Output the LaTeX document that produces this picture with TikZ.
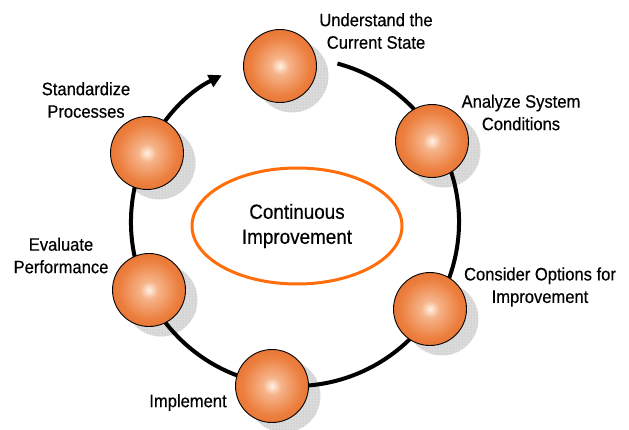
\documentclass[tikz,border=0pt]{standalone}
\usepackage{fontspec}
\setmainfont{Liberation Sans}[FakeStretch=0.92,FakeBold=0.4]
\usetikzlibrary{shapes.geometric,patterns,arrows.meta}
\definecolor{ringorange}{RGB}{255,110,10}
\definecolor{edgeor}{RGB}{210,84,14}
\definecolor{outor}{RGB}{226,100,32}
\definecolor{midor}{RGB}{236,128,64}
\definecolor{lightor}{RGB}{246,180,138}
\definecolor{hiwhite}{RGB}{255,242,230}
\pgfdeclareradialshading{sphereshade}{\pgfpoint{0bp}{0bp}}{%
  color(0bp)=(hiwhite); color(6bp)=(lightor); color(20bp)=(midor);
  color(36bp)=(outor); color(50bp)=(edgeor); color(70bp)=(edgeor)}
\tikzset{
  sphere/.style={circle, minimum size=73pt, inner sep=0pt, draw=black, line width=0.9pt, shading=sphereshade},
  shadowdisc/.style={circle, minimum size=73pt, inner sep=0pt, fill=gray!28},
  lbl/.style={align=center, font=\fontsize{18}{22.5}\selectfont, text=black},
  ring/.style={line width=4pt, black},
}
\begin{document}
\begin{tikzpicture}[x=1pt,y=1pt]
\useasboundingbox (0,0) rectangle (629,429);
% shadows
\foreach \n/\x/\y in {s1/280/363, s2/432/288, s3/147/276, s4/430/120, s5/272/43, s6/149/139}{
  \node[shadowdisc] (\n sh) at (\x+12,\y-10) {};
  \fill[pattern=dots, pattern color=gray!62] (\x+12,\y-10) circle (36.5pt);
}
% ring with arrow
\coordinate (ringstart) at ({295+164*cos(75)},{207+164*sin(75)});
\draw[ring, -{Triangle[length=13pt,width=13pt]}] (ringstart) arc[start angle=75, end angle=-243.5, radius=164pt];
% spheres
\node[sphere] (s1) at (280,363) {};
\node[sphere] (s2) at (432,288) {};
\node[sphere] (s3) at (147,276) {};
\node[sphere] (s4) at (430,120) {};
\node[sphere] (s5) at (272,43) {};
\node[sphere] (s6) at (149,139) {};
% centre
\node[ellipse, draw=ringorange, line width=3pt, minimum width=210pt, minimum height=116pt, inner sep=0pt,
      align=center, font=\fontsize{20.5}{25}\selectfont] (ci) at (297,203) {Continuous\\Improvement};
% labels
\node[lbl] (l1) at (376,398) {Understand the\\Current State};
\node[lbl] (l2) at (521,316.5) {Analyze System\\Conditions};
\node[lbl] (l3) at (86,329) {Standardize\\Processes};
\node[lbl] (l4) at (540,142) {Consider Options for\\Improvement};
\node[lbl] (l5) at (188,26.5) {Implement};
\node[lbl] (l6) at (61,173.5) {Evaluate\\Performance};
\end{tikzpicture}
\end{document}
